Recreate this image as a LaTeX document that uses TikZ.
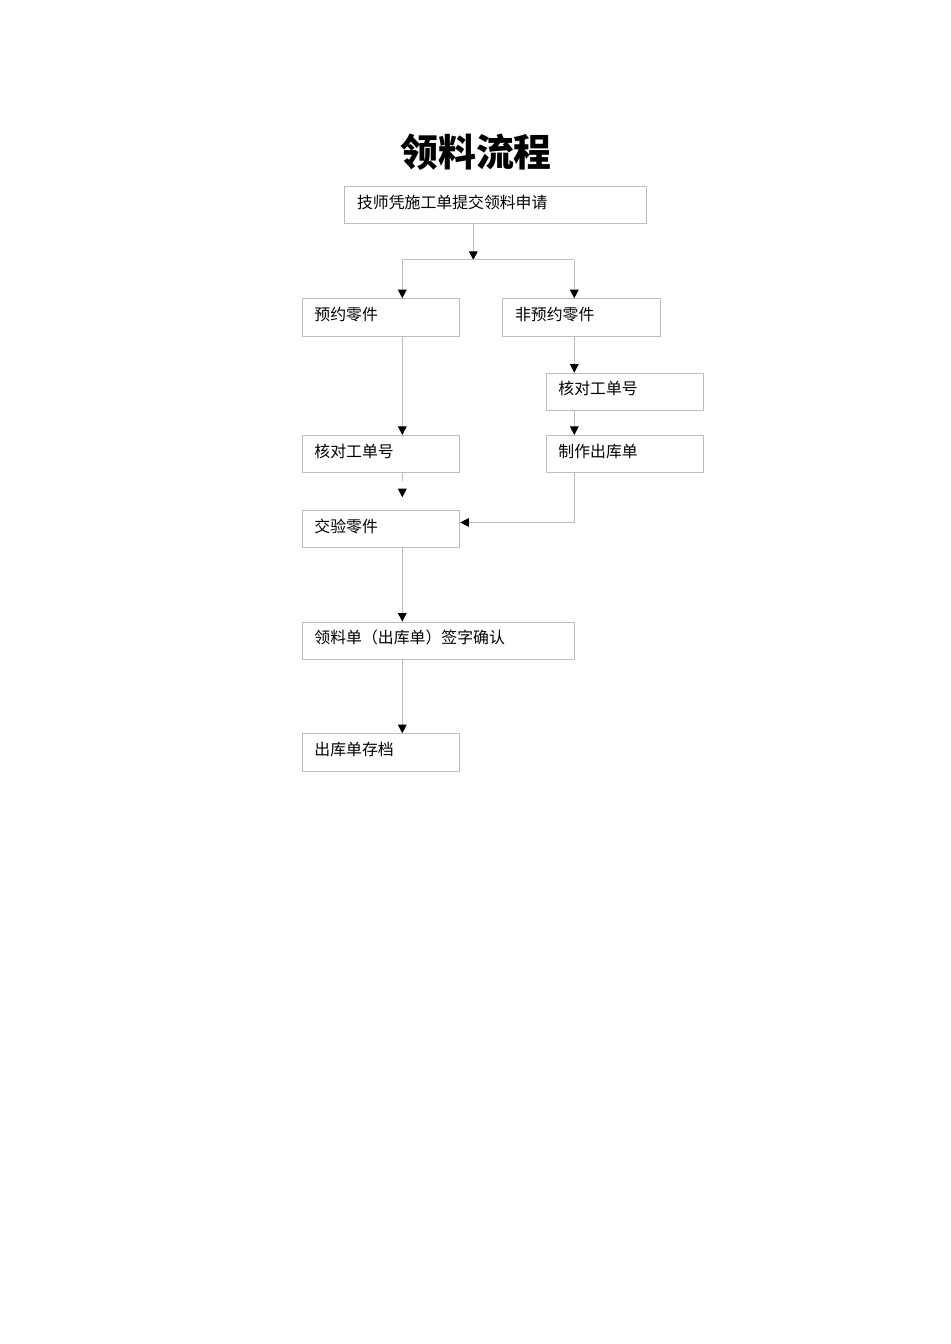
\documentclass[tikz,border=0pt]{standalone}
\usepackage{fontspec}
\newfontfamily\cjk{Noto Sans CJK SC}
\usetikzlibrary{arrows.meta}
\definecolor{boxgray}{RGB}{190,190,190}
\tikzset{
  box/.style={draw=boxgray, line width=0.75pt, anchor=north west, inner xsep=9.2pt, inner ysep=0pt,
    minimum height=28pt, text height=9pt, text depth=4.4pt, align=left, font=\cjk\fontsize{11.9}{14}\selectfont},
  conn/.style={draw=boxgray, line width=0.75pt},
  arr/.style={conn, -{Triangle[length=6.5pt, width=6.5pt, color=black]}}
}
\begin{document}
\begin{tikzpicture}[x=0.75pt,y=0.75pt,yscale=-1,xscale=1]
    \useasboundingbox (0,0) rectangle (950,1344);

    % Title
    \node[font=\cjk\bfseries\fontsize{28.4}{32}\selectfont] (title) at (476,152) {领料流程};

    % Boxes
    \node[box, text width=208.1pt] (req) at (344.3,186) {技师凭施工单提交领料申请};
    \node[box, text width=99.8pt] (resv) at (301.7,298.3) {预约零件};
    \node[box, text width=99.8pt] (nresv) at (502.3,298.3) {非预约零件};
    \node[box, text width=99.8pt] (chkR) at (545.7,372.7) {核对工单号};
    \node[box, text width=99.8pt] (chkL) at (301.7,435) {核对工单号};
    \node[box, text width=99.8pt] (make) at (545.7,435) {制作出库单};
    \node[box, text width=99.8pt] (check) at (301.7,510) {交验零件};
    \node[box, text width=186.1pt] (sign) at (301.7,621.7) {领料单（出库单）签字确认};
    \node[box, text width=99.8pt] (arch) at (301.7,733.3) {出库单存档};

    % Joints
    \coordinate (split) at (473.3,260);
    \coordinate (lk) at (402.3,260);
    \coordinate (rk) at (574.3,260);
    \coordinate (mj) at (574.3,522.5);

    % Connectors
    \draw[arr] (req.south -| split) -- (split);
    \draw[conn] (lk) -- (rk);
    \draw[arr] (lk) -- (lk |- resv.north);
    \draw[arr] (rk) -- (rk |- nresv.north);
    \draw[arr] (lk |- resv.south) -- (lk |- chkL.north);
    \draw[arr] (rk |- nresv.south) -- (rk |- chkR.north);
    \draw[arr] (rk |- chkR.south) -- (rk |- make.north);
    \draw[conn] (lk |- chkL.south) -- ++(0,8);
    \draw[arr, shorten <=12pt, shorten >=9.5pt] (lk |- chkL.south) -- (lk |- check.north);
    \draw[arr] (rk |- make.south) -- (mj) -- (mj -| check.east);
    \draw[arr] (lk |- check.south) -- (lk |- sign.north);
    \draw[arr] (lk |- sign.south) -- (lk |- arch.north);
\end{tikzpicture}
\end{document}
